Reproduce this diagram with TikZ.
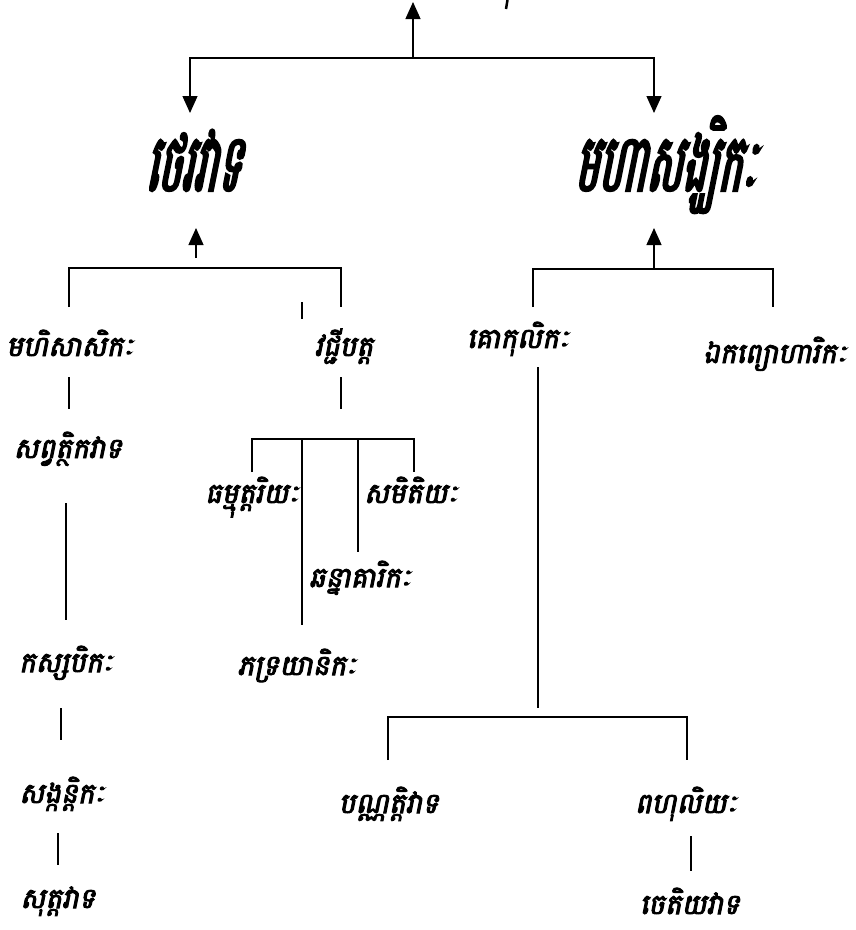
\documentclass[tikz,border=0pt]{standalone}
\usepackage{fontspec}
\newfontfamily\khmerfont[Script=Khmer,FakeSlant=0.2,FakeBold=3.5]{Battambang}
\newfontfamily\khmertitle[Script=Khmer,FakeSlant=0.2,FakeBold=3,FakeStretch=0.5]{Battambang}
\usetikzlibrary{arrows.meta}
\tikzset{
  school/.style={anchor=base, inner sep=0pt, font=\khmerfont\fontsize{28}{34}\selectfont},
  branch/.style={anchor=base, inner sep=0pt, font=\khmertitle\fontsize{80}{90}\selectfont},
  link/.style={line width=1.3pt},
  arrowlink/.style={line width=1.3pt, -{Triangle[length=17pt,width=15pt]}},
}
\begin{document}
\begin{tikzpicture}[x=1pt,y=-1pt]
      \useasboundingbox (0,0) rectangle (855,930);
      % the two branches
      \node[branch] (theravada) at (193,191) {ថេរវាទ};
      \node[branch] (mahasanghika) at (665,191) {មហាសង្ឃិកៈ};
      \coordinate (root) at (413,2);
      \coordinate (topbar) at (413,58);
      \coordinate (thTip) at (190,113);
      \coordinate (maTip) at (654,113);
      \draw[arrowlink] (topbar) -- (root);
      \draw[arrowlink] (topbar) -| (thTip);
      \draw[arrowlink] (topbar) -| (maTip);
      \draw[line width=2.5pt] (507.5,0) -- (506,9);
      % theravada side
      \node[school] (mahisasaka) at (70,356) {មហិសាសិកៈ};
      \node[school] (vajjiputta) at (344,356) {វជ្ជីបត្ត};
      \coordinate (thUp) at (196,228);
      \coordinate (thStem) at (196,258);
      \coordinate (thBar) at (196,268);
      \coordinate (mhDrop) at (69,307);
      \coordinate (vjDrop) at (341,307);
      \draw[arrowlink] (thStem) -- (thUp);
      \draw[link] (mhDrop) |- (thBar) -| (vjDrop);
      \draw[link] (302,302) -- (302,319);
      \node[school] (sabbatthika) at (68,458) {សព្វត្ថិកវាទ};
      \node[school] (kassapika) at (66,672) {កស្សបិកៈ};
      \node[school] (sankantika) at (62,803) {សង្កន្តិកៈ};
      \node[school] (suttavada) at (58,908) {សុត្តវាទ};
      \draw[link] (69,377) -- (69,409);
      \draw[link] (66,503) -- (66,620);
      \draw[link] (61,708) -- (61,740);
      \draw[link] (58,833) -- (58,865);
      % vajjiputta group
      \node[school] (dhammuttariya) at (252,503) {ធម្មុត្តរិយៈ};
      \node[school] (sammitiya) at (411,503) {សមិតិយៈ};
      \node[school] (channagarika) at (360,587) {ឆន្នាគារិកៈ};
      \node[school] (bhadrayanika) at (297,675) {ភទ្រយានិកៈ};
      \coordinate (vjBar) at (252,439);
      \draw[link] (341,377) -- (341,409);
      \draw[link] (252,472) |- (414,439) -- (414,472);
      \draw[link] (302,439) -- (302,625);
      \draw[link] (358,439) -- (358,552);
      % mahasanghika side
      \node[school] (gokulika) at (518,348) {គោកុលិកៈ};
      \node[school] (ekabyoharika) at (775,363) {ឯកព្យោហារិកៈ};
      \coordinate (maUp) at (654,228);
      \coordinate (maBar) at (654,269);
      \coordinate (gkDrop) at (533,307);
      \coordinate (ekDrop) at (773,307);
      \draw[arrowlink] (maBar) -- (maUp);
      \draw[link] (gkDrop) |- (maBar) -| (ekDrop);
      \draw[link] (538,367) -- (538,708);
      \node[school] (pannatti) at (389,813) {បណ្ណត្តិវាទ};
      \node[school] (bahuliya) at (686,813) {ពហុលិយៈ};
      \node[school] (cetiya) at (690,914) {ចេតិយវាទ};
      \draw[link] (388,760) |- (687,717) -- (687,760);
      \draw[link] (691,836) -- (691,871);
\end{tikzpicture}
\end{document}
